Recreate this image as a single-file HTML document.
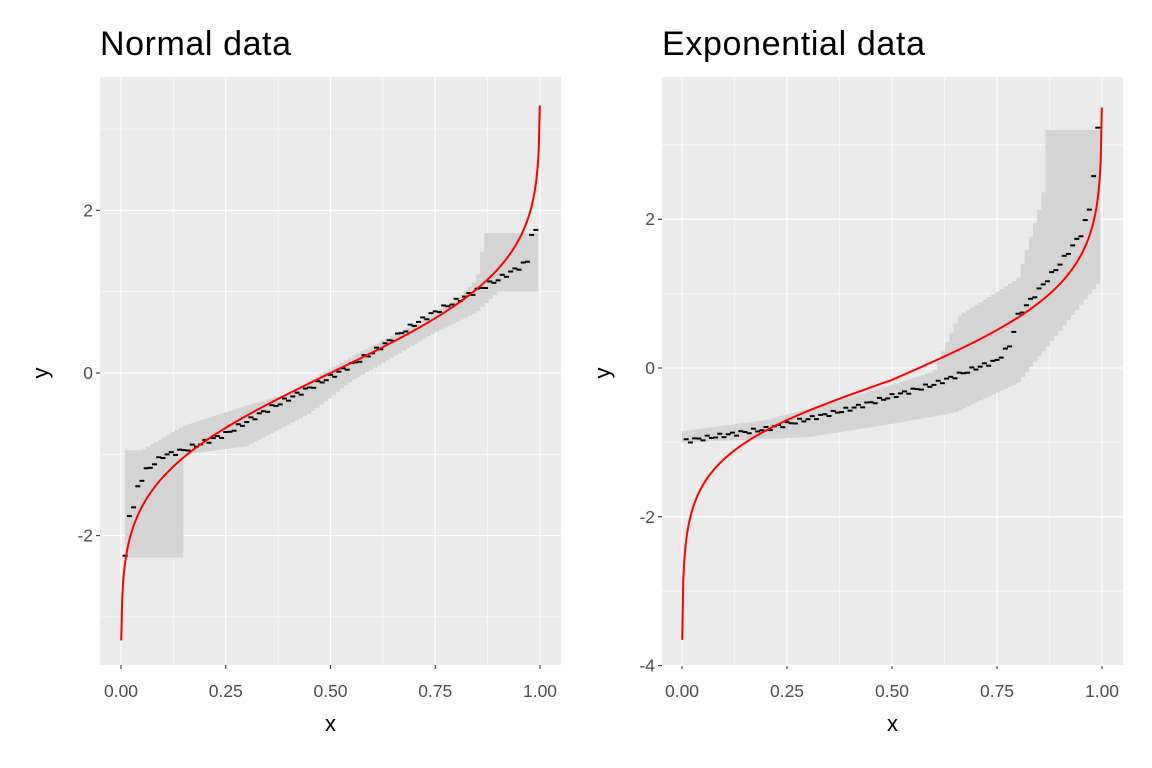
<!DOCTYPE html>
<html><head><meta charset="utf-8"><style>
body{margin:0;background:#fff}
svg{display:block;font-family:"Liberation Sans",sans-serif}
</style></head><body>
<svg id="s" width="1152" height="768" xmlns="http://www.w3.org/2000/svg"></svg>
<script>
function qn(p){var a=[-39.69683028665376,220.9460984245205,-275.9285104469687,138.357751867269,-30.66479806614716,2.506628277459239],b=[-54.47609879822406,161.5858368580409,-155.6989798598866,66.80131188771972,-13.28068155288572],c=[-0.007784894002430293,-0.3223964580411365,-2.400758277161838,-2.549732539343734,4.374664141464968,2.938163982698783],d=[0.007784695709041462,0.3224671290700398,2.445134137142996,3.754408661907416];var q,r;
if(p<0.02425){q=Math.sqrt(-2*Math.log(p));return(((((c[0]*q+c[1])*q+c[2])*q+c[3])*q+c[4])*q+c[5])/((((d[0]*q+d[1])*q+d[2])*q+d[3])*q+1);}
if(p>1-0.02425){q=Math.sqrt(-2*Math.log(1-p));return-(((((c[0]*q+c[1])*q+c[2])*q+c[3])*q+c[4])*q+c[5])/((((d[0]*q+d[1])*q+d[2])*q+d[3])*q+1);}
q=p-0.5;r=q*q;return(((((a[0]*r+a[1])*r+a[2])*r+a[3])*r+a[4])*r+a[5])*q/(((((b[0]*r+b[1])*r+b[2])*r+b[3])*r+b[4])*r+1);}
function interp(k,x){for(var i=0;i<k.length-1;i++){if(x<=k[i+1][0]){var t=(x-k[i][0])/(k[i+1][0]-k[i][0]);return k[i][1]+t*(k[i+1][1]-k[i][1]);}}return k[k.length-1][1];}
var out='';
function panel(P){
 var X=function(v){return P.x0+v*(P.x1-P.x0)},Y=function(v){return P.y0-v*P.py};
 out+='<rect x="'+P.L+'" y="77" width="'+(P.R-P.L)+'" height="588" fill="#EBEBEB"/>';
 [0.125,0.375,0.625,0.875].forEach(function(v){out+='<line x1="'+X(v)+'" x2="'+X(v)+'" y1="77" y2="665" stroke="#fff" stroke-width="0.55"/>'});
 P.ymin.forEach(function(v){out+='<line y1="'+Y(v)+'" y2="'+Y(v)+'" x1="'+P.L+'" x2="'+P.R+'" stroke="#fff" stroke-width="0.55"/>'});
 [0,0.25,0.5,0.75,1].forEach(function(v){out+='<line x1="'+X(v)+'" x2="'+X(v)+'" y1="77" y2="665" stroke="#fff" stroke-width="1.1"/><line x1="'+X(v)+'" x2="'+X(v)+'" y1="665" y2="669" stroke="#333" stroke-width="1.1"/><text x="'+X(v)+'" y="697" font-size="17.5" fill="#4D4D4D" text-anchor="middle">'+v.toFixed(2)+'</text>'});
 P.ymaj.forEach(function(v){out+='<line y1="'+Y(v)+'" y2="'+Y(v)+'" x1="'+P.L+'" x2="'+P.R+'" stroke="#fff" stroke-width="1.1"/><line y1="'+Y(v)+'" y2="'+Y(v)+'" x1="'+(P.L-4)+'" x2="'+P.L+'" stroke="#333" stroke-width="1.1"/><text x="'+(P.L-7)+'" y="'+(Y(v)+6)+'" font-size="17.5" fill="#4D4D4D" text-anchor="end">'+(v<0?'-'+(-v):v)+'</text>'});
 var n=100;
 for(var i=0;i<n;i++){var xa=X(P.rs+i*(P.re-P.rs)/n),xb=X(P.rs+(i+1)*(P.re-P.rs)/n),xm=P.rs+(i+0.5)*(P.re-P.rs)/n;
  var u=Y(interp(P.up,xm)),l=Y(interp(P.lo,xm));
  out+='<rect x="'+xa+'" y="'+u+'" width="'+(xb-xa+0.3)+'" height="'+(l-u)+'" fill="#D4D4D4"/>';}
 for(var i=1;i<=99;i++){var xv=i/100,yv=interp(P.d,xv)+0.03*Math.sin(i*2.3);
  out+='<line x1="'+(X(xv)-2.5)+'" x2="'+(X(xv)+2.5)+'" y1="'+Y(yv)+'" y2="'+Y(yv)+'" stroke="#000" stroke-width="2"/>';}
 var pts=[];for(var i=0;i<=400;i++){var t=i/400;var p=0.0005+t*0.999;pts.push(X(p).toFixed(2)+','+Y(P.f(qn(p))).toFixed(2));}
 out+='<polyline points="'+pts.join(' ')+'" fill="none" stroke="#FF0000" stroke-width="2"/>';
 out+='<text x="'+P.L+'" y="55" font-size="34" fill="#000" textLength="'+P.tl+'">'+P.t+'</text>';
 out+='<text x="'+((P.L+P.R)/2)+'" y="731" font-size="22" text-anchor="middle">x</text>';
 out+='<text transform="translate('+(P.L-52)+',373) rotate(-90)" font-size="22" text-anchor="middle">y</text>';
}
panel({L:100,R:561,x0:121,x1:540,y0:373,py:81.3,t:'Normal data',tl:191,ymaj:[-2,0,2],ymin:[-3,-1,1,3],
 rs:0.01,re:0.995,
 lo:[[0,-2.27],[0.15,-2.27],[0.151,-1.0],[0.3,-0.9],[0.45,-0.5],[0.55,-0.1],[0.65,0.2],[0.75,0.5],[0.85,0.75],[0.9,1.0],[1,1.0]],
 up:[[0,-0.95],[0.05,-0.95],[0.15,-0.65],[0.3,-0.4],[0.4,-0.25],[0.55,0.2],[0.7,0.6],[0.8,0.9],[0.85,1.15],[0.87,1.72],[1,1.72]],
 d:[[0.01,-2.27],[0.02,-1.73],[0.03,-1.67],[0.04,-1.4],[0.06,-1.2],[0.1,-1.02],[0.15,-0.95],[0.25,-0.75],[0.35,-0.45],[0.5,-0.05],[0.6,0.25],[0.7,0.6],[0.75,0.75],[0.9,1.15],[0.95,1.3],[0.97,1.37],[0.98,1.72],[0.99,1.73]],
 f:function(q){return q}});
panel({L:662,R:1123,x0:682,x1:1102,y0:368,py:74.4,t:'Exponential data',tl:263,ymaj:[-4,-2,0,2],ymin:[-3,-1,1,3],
 rs:0.0,re:0.995,
 lo:[[0,-1.0],[0.3,-0.93],[0.5,-0.75],[0.65,-0.6],[0.8,-0.2],[0.9,0.5],[1,1.2]],
 up:[[0,-0.85],[0.2,-0.7],[0.4,-0.4],[0.6,-0.05],[0.66,0.7],[0.8,1.2],[0.86,2.3],[0.87,3.2],[1,3.2]],
 d:[[0.01,-0.98],[0.2,-0.82],[0.4,-0.55],[0.5,-0.38],[0.6,-0.22],[0.7,0.0],[0.75,0.1],[0.78,0.3],[0.8,0.7],[0.85,1.05],[0.9,1.4],[0.95,1.8],[0.97,2.13],[0.98,2.6],[0.99,3.2]],
 f:function(q){return q<0?(0.79*q+0.0251*q*q*q-0.16):(0.989*q+0.0114*q*q*q-0.16)}});
document.getElementById('s').innerHTML=out;
</script>
</body></html>
